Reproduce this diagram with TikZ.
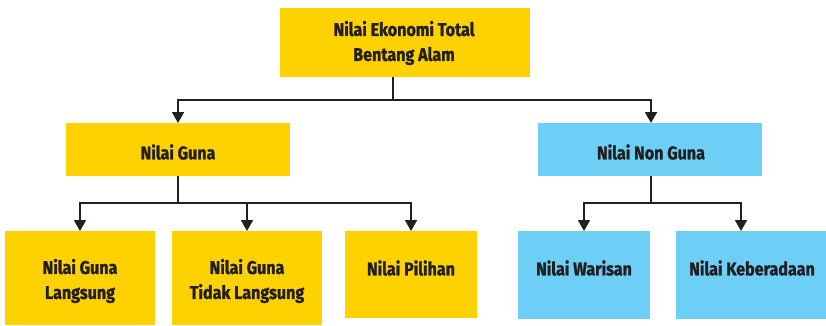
\documentclass[tikz,border=0pt]{standalone}
\usepackage{fontspec}
\setmainfont{Fira Sans}[FakeStretch=0.87, BoldFeatures={FakeBold=1.3}]
\usetikzlibrary{arrows.meta}
\definecolor{ylw}{HTML}{FDD200}
\definecolor{blu}{HTML}{6DCFF6}
\definecolor{ink}{HTML}{231F20}
\begin{document}
\begin{tikzpicture}[x=1pt,y=-1pt,
  lbl/.style={text=ink, font=\fontsize{18.5}{25}\selectfont\bfseries, align=center},
  conn/.style={draw=ink, line width=1.8pt},
  arr/.style={conn, -{Triangle[width=12pt,length=11pt]}}]
\useasboundingbox (0,0) rectangle (826,325);
% boxes
\fill[ylw] (280,8) rectangle (530,77);
\fill[ylw] (66,123) rectangle (290,176);
\fill[blu] (538,123) rectangle (762,176);
\fill[ylw] (5,231) rectangle (155,325);
\fill[ylw] (172,231) rectangle (322,325);
\fill[ylw] (345,231) rectangle (477,318);
\fill[blu] (518,231) rectangle (650,319);
\fill[blu] (676,231) rectangle (826,319);
% anchor coordinates
\coordinate (tb) at (393,77);
\coordinate (gt) at (178,123);
\coordinate (nt) at (651,123);
\coordinate (gb) at (178,176);
\coordinate (nb) at (651,176);
\coordinate (b1) at (80,231);
\coordinate (b2) at (247,231);
\coordinate (b3) at (411,231);
\coordinate (b4) at (584,231);
\coordinate (b5) at (741,231);
% labels
\node[lbl] (t) at (404,43) {Nilai Ekonomi Total\\Bentang Alam};
\node[lbl] (g) at (178,152) {Nilai Guna};
\node[lbl] (n) at (651,152) {Nilai Non Guna};
\node[lbl] (l1) at (80,281) {Nilai Guna\\Langsung};
\node[lbl] (l2) at (247,281) {Nilai Guna\\Tidak Langsung};
\node[lbl] (l3) at (411,268) {Nilai Pilihan};
\node[lbl] (l4) at (584,268) {Nilai Warisan};
\node[lbl] (l5) at (752,268) {Nilai Keberadaan};
% connectors
\draw[conn] (tb) -- (393,100);
\draw[arr] (393,100) -| (gt);
\draw[arr] (393,100) -| (nt);
\draw[conn] (gb) -- (178,203);
\draw[arr] (178,203) -| (b1);
\draw[arr] (178,203) -| (b2);
\draw[arr] (178,203) -| (b3);
\draw[conn] (nb) -- (651,203);
\draw[arr] (651,203) -| (b4);
\draw[arr] (651,203) -| (b5);
\end{tikzpicture}
\end{document}
